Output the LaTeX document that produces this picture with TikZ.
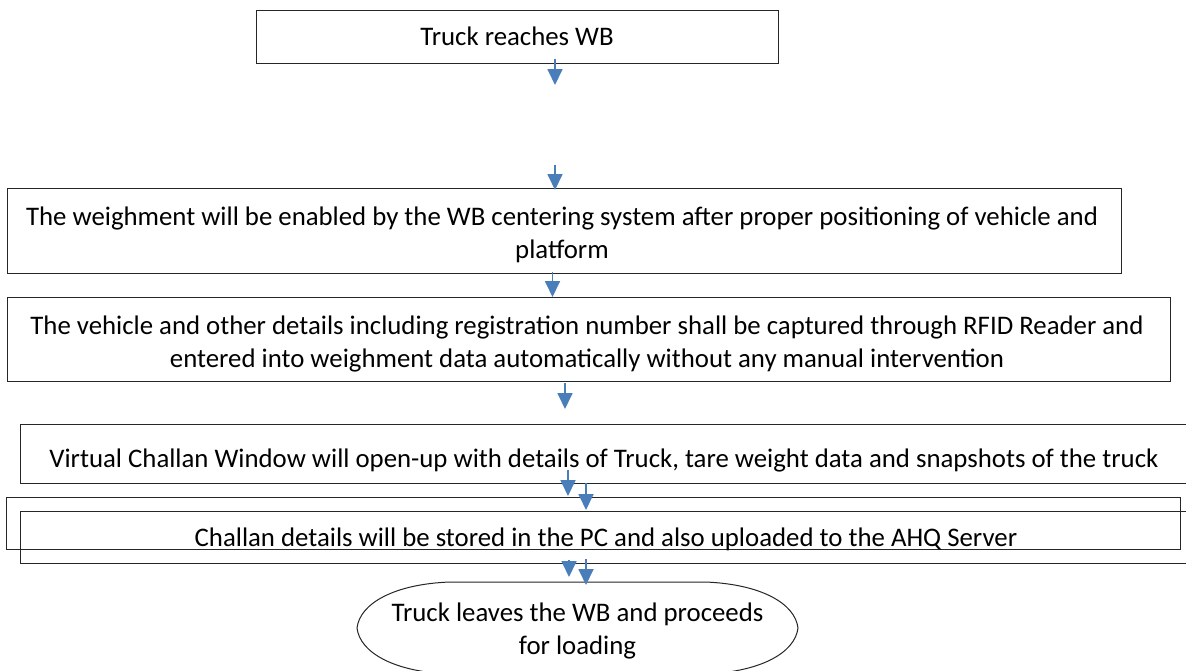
\documentclass[tikz,border=0pt]{standalone}
\usepackage{fontspec}
\setmainfont{Carlito}
\usetikzlibrary{arrows.meta}
\definecolor{arrowblue}{RGB}{74,126,187}
\begin{document}
\begin{tikzpicture}[x=1pt,y=-1pt,
  box/.style={draw=black!85,line width=1pt,inner sep=0pt},
  txt/.style={font=\fontsize{26.8}{33}\selectfont,align=center,inner sep=0pt},
  flow/.style={draw=arrowblue,line width=1.8pt,-{Triangle[width=15pt,length=16pt]}}]
\clip (0,0) rectangle (1186,670);
\fill[white] (0,0) rectangle (1186,670);
% boxes
\node[box,minimum width=522pt,minimum height=53pt] (b1) at (517,36.5) {};
\node[txt] (t1) at (517,36.5) {Truck reaches WB};
\node[box,minimum width=1114pt,minimum height=85pt] (b2) at (564,230.5) {};
\node[txt] (t2) at (562,234.5)
  {The weighment will be enabled by the WB centering system after proper positioning of vehicle and\\platform};
\node[box,minimum width=1163pt,minimum height=84pt] (b3) at (588.5,339) {};
\node[txt] (t3) at (587,344)
  {The vehicle and other details including registration number shall be captured through RFID Reader and\\entered into weighment data automatically without any manual intervention};
\node[box,minimum width=1169pt,minimum height=59pt] (b4) at (604.5,453.5) {};
\node[txt] (t4) at (604,460)
  {Virtual Challan Window will open-up with details of Truck, tare weight data and snapshots of the truck};
\node[box,minimum width=1174pt,minimum height=52pt] (b5a) at (593,523) {};
\node[box,minimum width=1169pt,minimum height=52pt] (b5b) at (604.5,537) {};
\node[txt] (t5) at (606,539)
  {Challan details will be stored in the PC and also uploaded to the AHQ Server};
% terminator
\node[txt] (end) at (577.5,631) {Truck leaves the WB and proceeds\\for loading};
\draw[black!85,line width=1pt] (357,628) .. controls (360,603) and (395,584) .. (450,582) -- (705,582)
  .. controls (760,584) and (795,603) .. (798,628)
  .. controls (795,653) and (760,672) .. (705,674) -- (450,674)
  .. controls (395,672) and (360,653) .. (357,628) -- cycle;
% arrow end points
\coordinate (a1s) at (555,59);   \coordinate (a1e) at (555,85);
\coordinate (a2s) at (555,165);  \coordinate (a2e) at (555,190);
\coordinate (a3s) at (552.5,272);\coordinate (a3e) at (552.5,297);
\coordinate (a4s) at (565,383);  \coordinate (a4e) at (565,409);
\coordinate (a5s) at (568,470);  \coordinate (a5e) at (568,496);
\coordinate (a6s) at (586,483);  \coordinate (a6e) at (586,510);
\coordinate (a7s) at (569,560);  \coordinate (a7e) at (569,577);
\coordinate (a8s) at (586,559);  \coordinate (a8e) at (586,585);
\foreach \i in {1,...,8} {\draw[flow] (a\i s) -- (a\i e);}
\end{tikzpicture}
\end{document}
